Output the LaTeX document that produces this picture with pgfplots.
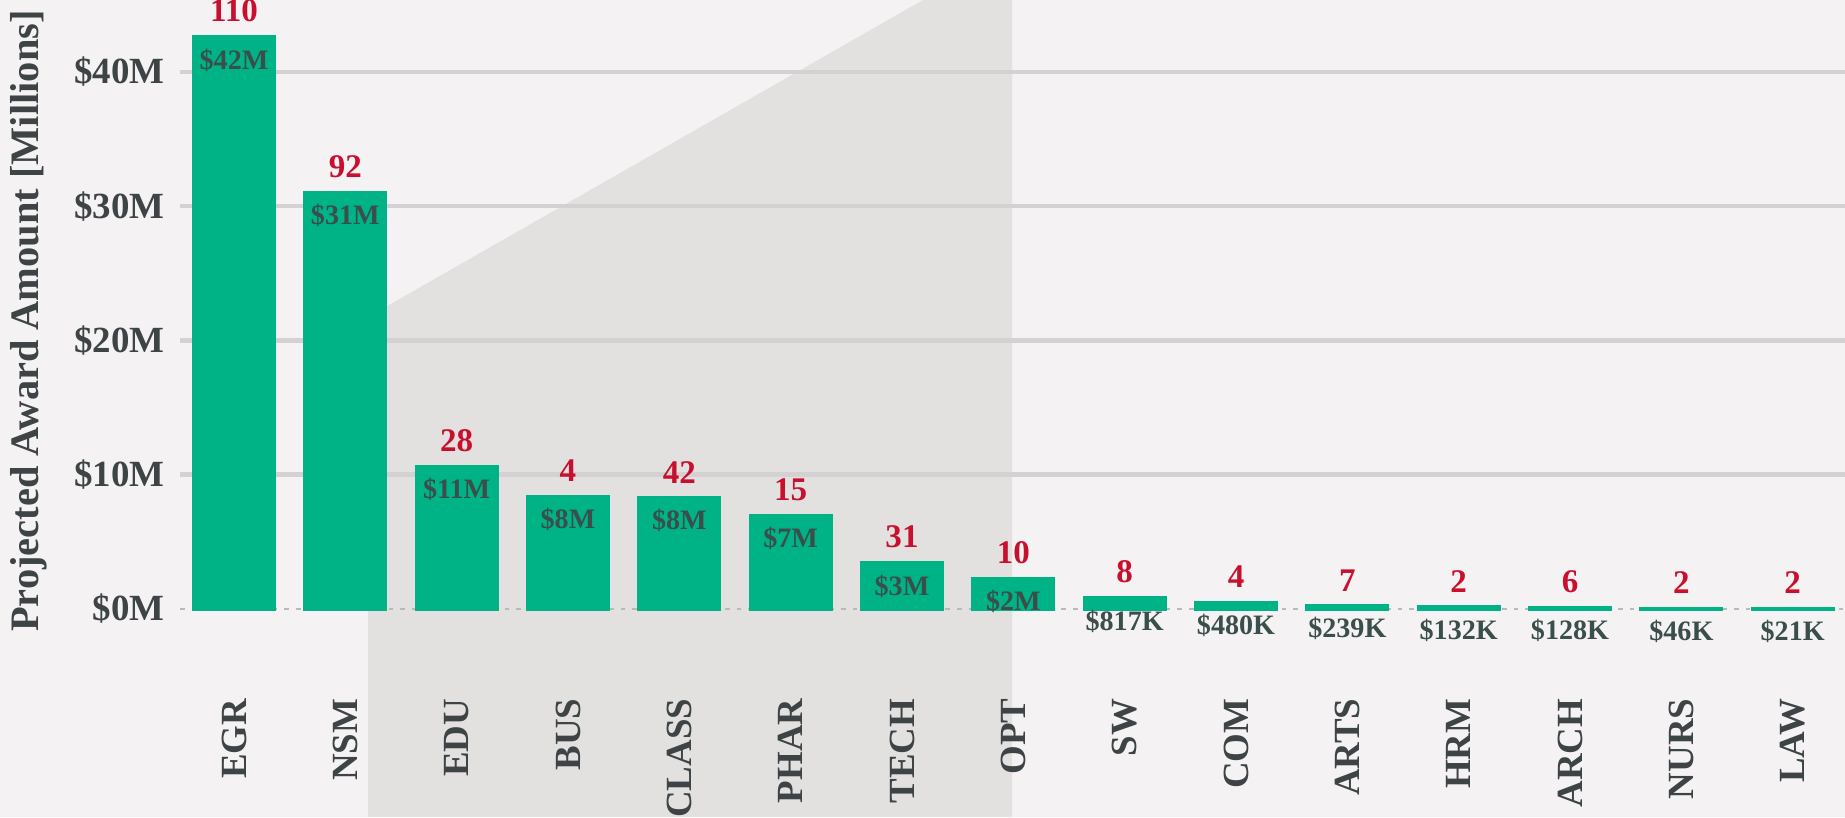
\documentclass[border=0pt]{standalone}
\usepackage{fontspec}
\setmainfont{Liberation Serif}
\usepackage{pgfplots}
\usepackage{pgfplotstable}
\pgfplotsset{compat=1.18}

\definecolor{bgc}{HTML}{F4F2F3}
\definecolor{shadec}{HTML}{E3E1E0}
\definecolor{gridc}{HTML}{D3D1D1}
\definecolor{barc}{HTML}{00B386}
\definecolor{cntc}{HTML}{C8102E}
\definecolor{txtc}{HTML}{3E4446}
\definecolor{amtc}{HTML}{3A4F4C}

% x, amount in millions, number of awards, amount label
\pgfplotstableread{
x y n a
0 42.6 110 \$42M
1 31.0 92 \$31M
2 10.6 28 \$11M
3 8.36 4 \$8M
4 8.28 42 \$8M
5 6.94 15 \$7M
6 3.43 31 \$3M
7 2.24 10 \$2M
8 0.817 8 \$817K
9 0.480 4 \$480K
10 0.239 7 \$239K
11 0.132 2 \$132K
12 0.128 6 \$128K
13 0.046 2 \$46K
14 0.021 2 \$21K
}\awards

\begin{document}
\begin{tikzpicture}
  \useasboundingbox (-1.80,-2.08) rectangle (16.65,6.09);
  \begin{pgfinterruptboundingbox}
  \clip (-1.80,-2.08) rectangle (16.65,6.09);
  \fill[bgc] (-1.80,-2.08) rectangle (16.65,6.09);
  \fill[shadec] (1.88,-2.08) -- (1.88,2.92) -- (7.43,6.09) -- (8.32,6.09) -- (8.32,-2.08) -- cycle;
  \begin{axis}[
      at={(0,0)},anchor=south west,
      width=16.65cm,height=6.09cm,scale only axis,
      xmin=-0.485,xmax=14.47,ymin=0,ymax=45.35,
      clip=false,
      axis line style={draw=none},
      major tick length=0pt,
      xtick={0,...,14},
      xticklabels={EGR,NSM,EDU,BUS,CLASS,PHAR,TECH,OPT,SW,COM,ARTS,HRM,ARCH,NURS,LAW},
      xticklabel shift=0.89cm,
      xticklabel style={rotate=90,anchor=east,inner sep=0pt,
        font=\fontsize{10.5}{12}\selectfont\bfseries,text=txtc},
      ytick={10,20,30,40},
      yticklabels={\$10M,\$20M,\$30M,\$40M},
      extra y ticks={0},
      extra y tick labels={\$0M},
      extra y tick style={grid style={gridc!70!gray,dotted,line width=0.7pt}},
      yticklabel shift=0.15cm,
      yticklabel style={anchor=east,inner sep=0pt,
        font=\fontsize{10.5}{12}\selectfont\bfseries,text=txtc},
      ymajorgrids,
      grid style={gridc,line width=1.3pt},
      ylabel={Projected Award Amount [Millions]},
      ylabel style={at={(axis description cs:-0.0907,0.473)},anchor=center,
        font=\fontsize{11.5}{13}\selectfont\bfseries,text=txtc},
    ]
    \addplot[ybar,bar width=0.725,bar shift=0pt,fill=barc,draw=barc,line width=1pt,
      nodes near coords,point meta=explicit symbolic,
      every node near coord/.append style={anchor=south,inner sep=0pt,yshift=0.13cm,
        font=\fontsize{9.4}{11}\selectfont\bfseries,text=cntc}]
      table[x=x,y=y,meta=n]{\awards};
    \addplot[ybar,bar width=0.725,bar shift=0pt,fill=none,draw=none,
      nodes near coords,point meta=explicit symbolic,
      every node near coord/.append style={anchor=north,inner sep=0pt,yshift=-0.11cm,
        font=\fontsize{8}{10}\selectfont\bfseries,text=amtc}]
      table[x=x,y=y,meta=a]{\awards};
  \end{axis}
  \end{pgfinterruptboundingbox}
\end{tikzpicture}
\end{document}
